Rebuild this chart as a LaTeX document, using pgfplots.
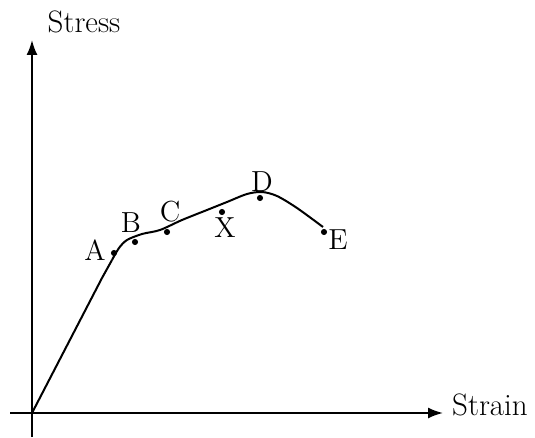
\documentclass[border=0pt]{standalone}
\usepackage{pgfplots}
\pgfplotsset{compat=1.18}
\usetikzlibrary{arrows.meta}
\begin{document}
\begin{tikzpicture}
\begin{axis}[
  x=0.5pt, y=0.5pt,
  axis lines=middle,
  xmin=-22, xmax=411, ymin=-24, ymax=373,
  xtick=\empty, ytick=\empty,
  axis line style={line width=0.95pt, -{Latex[length=7.5pt,width=5.5pt]}},
  clip=false,
]
\path (axis cs:-32,-24) rectangle (axis cs:503,413);
\addplot[black, line width=1pt] coordinates {(0,0) (70,135) (80,153)};
\addplot[black, line width=1pt, smooth] coordinates {
 (80,153) (87,165) (95,173) (110,179) (128,183) (150,193) (175,203)
 (195,211) (215,219) (230,221) (245,217) (265,205) (291,186)};
\addplot[only marks, mark=*, mark size=1.3pt, black] coordinates {
 (82,160) (103,171) (135,181) (190,201) (228,215) (292,181)};
\node[font=\fontsize{15.5}{17}\selectfont] at (axis cs:52,391) {Stress};
\node[font=\fontsize{15.5}{17}\selectfont] at (axis cs:458,8) {Strain};
\begin{scope}[every node/.style={font=\fontsize{14.5}{16}\selectfont}]
\node at (axis cs:63,163) {A};
\node at (axis cs:99,190) {B};
\node at (axis cs:138,201) {C};
\node at (axis cs:193,185) {X};
\node at (axis cs:230,231) {D};
\node at (axis cs:306,173) {E};
\end{scope}
\end{axis}
\end{tikzpicture}
\end{document}
